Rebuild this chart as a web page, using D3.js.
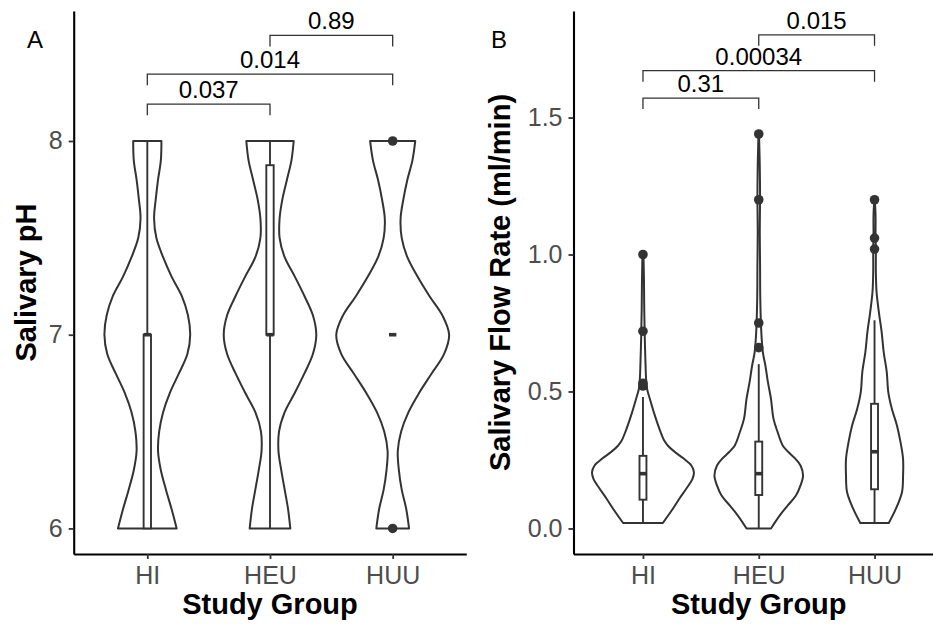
<!DOCTYPE html>
<html>
<head>
<meta charset="utf-8">
<script src="https://cdn.jsdelivr.net/npm/d3@7"></script>
<style>
  body { margin: 0; background: #fff; }
  text { font-family: "Liberation Sans", Arial, sans-serif; }
</style>
</head>
<body>
<svg id="svg" width="933" height="624"></svg>
<script>
// groups and tick values
var groups = ["HI", "HEU", "HUU"];
var phTicks = [6, 7, 8];
var flowTicks = [0, 0.5, 1.0, 1.5];

// Panel A: relative violin width along the pH grid
var phGrid    = [6.0, 6.1, 6.2, 6.3, 6.4, 6.5, 6.6, 6.7, 6.8, 6.9, 7.0, 7.1, 7.2, 7.3, 7.4, 7.5, 7.6, 7.7, 7.8, 7.9, 8.0];
var phDensHI  = [0.52, 0.43, 0.33, 0.24, 0.19, 0.21, 0.28, 0.40, 0.56, 0.71, 0.76, 0.72, 0.61, 0.43, 0.28, 0.16, 0.12, 0.15, 0.19, 0.24, 0.25];
var phDensHEU = [0.36, 0.32, 0.26, 0.20, 0.15, 0.16, 0.26, 0.44, 0.61, 0.76, 0.82, 0.76, 0.61, 0.44, 0.26, 0.17, 0.17, 0.22, 0.30, 0.38, 0.42];
var phDensHUU = [0.29, 0.24, 0.16, 0.11, 0.09, 0.15, 0.28, 0.47, 0.69, 0.91, 1.00, 0.88, 0.65, 0.44, 0.26, 0.16, 0.14, 0.19, 0.26, 0.35, 0.40];

// box stats: lower whisker, q1, median, q3, upper whisker
var phBoxHI  = [6, 6, 7, 7, 8];
var phBoxHEU = [6, 7, 7, 7.875, 8];
var phBoxHUU = [7, 7, 7, 7, 7];
var phOutHI  = [];
var phOutHEU = [];
var phOutHUU = [6, 8];

// p-value brackets
var phPairs   = [["HI", "HEU"], ["HI", "HUU"], ["HEU", "HUU"]];
var phPLabels = ["0.037", "0.014", "0.89"];
var phPY      = [8.19, 8.345, 8.545];

// Panel B: violin [flow, relative width]
var flowVioHI  = [[0.02, 0.39], [0.07, 0.58], [0.11, 0.72], [0.145, 0.85], [0.18, 0.97], [0.205, 1.0], [0.23, 0.95],
                  [0.255, 0.80], [0.28, 0.62], [0.30, 0.50], [0.32, 0.42], [0.36, 0.33], [0.42, 0.22], [0.47, 0.14],
                  [0.51, 0.08], [0.55, 0.06], [0.60, 0.05], [0.70, 0.035], [0.80, 0.025], [0.90, 0.02], [1.0, 0.01]];
var flowVioHEU = [[0.0, 0.24], [0.047, 0.41], [0.084, 0.57], [0.12, 0.73], [0.157, 0.82], [0.193, 0.87], [0.23, 0.82],
                  [0.254, 0.72], [0.279, 0.58], [0.303, 0.47], [0.352, 0.37], [0.40, 0.29], [0.473, 0.24], [0.534, 0.18],
                  [0.595, 0.13], [0.644, 0.08], [0.717, 0.05], [0.84, 0.03], [0.96, 0.026], [1.08, 0.02], [1.2, 0.026],
                  [1.325, 0.02], [1.44, 0.005]];
var flowVioHUU = [[0.02, 0.28], [0.072, 0.42], [0.133, 0.54], [0.193, 0.56], [0.254, 0.56], [0.315, 0.51], [0.376, 0.44],
                  [0.437, 0.34], [0.498, 0.27], [0.571, 0.24], [0.644, 0.18], [0.717, 0.14], [0.79, 0.085], [0.863, 0.04],
                  [0.936, 0.026], [1.02, 0.026], [1.064, 0.02], [1.143, 0.02], [1.2, 0.005]];

var flowBoxHI  = [0.02, 0.105, 0.2, 0.265, 0.48];
var flowBoxHEU = [0.0, 0.122, 0.2, 0.317, 0.6];
var flowBoxHUU = [0.02, 0.143, 0.28, 0.455, 0.76];
var flowOutHI  = [0.52, 0.53, 0.72, 1.0];
var flowOutHEU = [0.66, 0.75, 1.2, 1.44];
var flowOutHUU = [1.02, 1.06, 1.2];

var flowPairs   = [["HI", "HEU"], ["HI", "HUU"], ["HEU", "HUU"]];
var flowPLabels = ["0.31", "0.00034", "0.015"];
var flowPY      = [1.571, 1.671, 1.802];

var svg = d3.select("#svg");
var ink = "#333333";
var panelTop = 11, panelBottom = 554;

function zipGrid(grid, dens) {
  return grid.map(function(v, i) { return [v, dens[i]]; });
}

function drawPanel(p) {
  var g = svg.append("g");
  var x = d3.scalePoint().domain(groups).range(p.xRange).padding(0.6);
  var y = d3.scaleLinear().domain(p.yDomain).range([panelBottom, panelTop]);
  var w = d3.scaleLinear().domain([0, 1]).range([0, p.halfWidth * x.step()]);
  var bw = 0.06 * x.step();

  groups.forEach(function(grp, i) {
    var cx = x(grp);
    var area = d3.area()
      .curve(d3.curveCatmullRom)
      .y(function(d) { return y(d[0]); })
      .x0(function(d) { return cx - w(d[1]); })
      .x1(function(d) { return cx + w(d[1]); });

    g.append("path")
      .datum(p.violins[i])
      .attr("d", area)
      .attr("fill", "#fff")
      .attr("stroke", ink)
      .attr("stroke-width", 2)
      .attr("stroke-linejoin", "round");

    var b = p.boxes[i];
    g.append("line")
      .attr("x1", cx).attr("x2", cx)
      .attr("y1", y(b[0])).attr("y2", y(b[1]))
      .attr("stroke", ink).attr("stroke-width", 1.9);
    g.append("line")
      .attr("x1", cx).attr("x2", cx)
      .attr("y1", y(b[3])).attr("y2", y(b[4]))
      .attr("stroke", ink).attr("stroke-width", 1.9);
    g.append("rect")
      .attr("x", cx - bw / 2)
      .attr("y", y(b[3]))
      .attr("width", bw)
      .attr("height", y(b[1]) - y(b[3]))
      .attr("fill", "#fff")
      .attr("stroke", ink)
      .attr("stroke-width", 1.9);
    g.append("line")
      .attr("x1", cx - bw / 2).attr("x2", cx + bw / 2)
      .attr("y1", y(b[2])).attr("y2", y(b[2]))
      .attr("stroke", ink).attr("stroke-width", 3.6);

    g.selectAll(null)
      .data(p.outliers[i])
      .enter().append("circle")
        .attr("cx", cx)
        .attr("cy", function(d) { return y(d); })
        .attr("r", 4.8)
        .attr("fill", ink);
  });

  // axes
  var yAxis = g.append("g")
    .attr("transform", "translate(" + p.xRange[0] + ",0)")
    .call(d3.axisLeft(y).tickValues(p.ticks).tickFormat(p.fmt).tickSize(5).tickSizeOuter(0).tickPadding(6));
  var xAxis = g.append("g")
    .attr("transform", "translate(0," + panelBottom + ")")
    .call(d3.axisBottom(x).tickSize(5).tickSizeOuter(0).tickPadding(7));

  [yAxis, xAxis].forEach(function(ax) {
    ax.select(".domain").attr("stroke", "#000").attr("stroke-width", 2.1);
    ax.selectAll(".tick line").attr("stroke", ink).attr("stroke-width", 1.8);
    ax.selectAll(".tick text")
      .attr("fill", "#4D4D4D")
      .attr("font-size", 25)
      .attr("font-family", "Liberation Sans, Arial, sans-serif");
  });

  // brackets
  p.pairs.forEach(function(pr, i) {
    var x1 = x(pr[0]), x2 = x(pr[1]), yy = y(p.pY[i]);
    g.append("path")
      .attr("d", "M" + x1 + "," + (yy + 11) + "V" + yy + "H" + x2 + "V" + (yy + 11))
      .attr("fill", "none")
      .attr("stroke", ink)
      .attr("stroke-width", 1.3);
    g.append("text")
      .attr("x", (x1 + x2) / 2)
      .attr("y", yy - 6)
      .attr("text-anchor", "middle")
      .attr("font-size", 24)
      .attr("fill", "#000")
      .text(p.pLabels[i]);
  });

  // titles
  g.append("text")
    .attr("x", (p.xRange[0] + p.xRange[1]) / 2)
    .attr("y", 614)
    .attr("text-anchor", "middle")
    .attr("font-size", 29)
    .attr("font-weight", "bold")
    .text("Study Group");
  g.append("text")
    .attr("transform", "translate(" + p.yTitleX + "," + (panelTop + panelBottom) / 2 + ") rotate(-90)")
    .attr("text-anchor", "middle")
    .attr("font-size", 29)
    .attr("font-weight", "bold")
    .text(p.yTitle);
  g.append("text")
    .attr("x", p.tagX)
    .attr("y", 48)
    .attr("font-size", 24)
    .text(p.tag);
}

drawPanel({
  tag: "A", tagX: 27,
  xRange: [73.7, 466.3],
  yDomain: [5.868, 8.671],
  halfWidth: 0.46,
  ticks: phTicks, fmt: d3.format("d"),
  yTitle: "Salivary pH", yTitleX: 35.5,
  violins: [zipGrid(phGrid, phDensHI), zipGrid(phGrid, phDensHEU), zipGrid(phGrid, phDensHUU)],
  boxes: [phBoxHI, phBoxHEU, phBoxHUU],
  outliers: [phOutHI, phOutHEU, phOutHUU],
  pairs: phPairs, pLabels: phPLabels, pY: phPY
});

drawPanel({
  tag: "B", tagX: 491,
  xRange: [573.5, 944],
  yDomain: [-0.0933, 1.889],
  halfWidth: 0.44,
  ticks: flowTicks, fmt: d3.format(".1f"),
  yTitle: "Salivary Flow Rate (ml/min)", yTitleX: 510,
  violins: [flowVioHI, flowVioHEU, flowVioHUU],
  boxes: [flowBoxHI, flowBoxHEU, flowBoxHUU],
  outliers: [flowOutHI, flowOutHEU, flowOutHUU],
  pairs: flowPairs, pLabels: flowPLabels, pY: flowPY
});
</script>
</body>
</html>
